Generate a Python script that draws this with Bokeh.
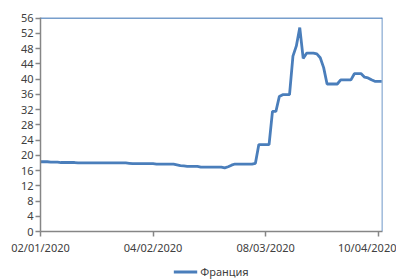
import pandas as pd
from bokeh.plotting import figure
from bokeh.layouts import column
from bokeh.models import (ColumnDataSource, FixedTicker, DatetimeTickFormatter,
                          Span, Legend, LegendItem, Range1d)
from bokeh.embed import file_html
from bokeh.resources import INLINE

# ---- data ----
start_date = "2020-01-02"
end_date = "2020-04-11"
series_name = "Франция"
values = [
    # Jan 2 - Jan 9
    18.3, 18.3, 18.3, 18.2, 18.2, 18.2, 18.1, 18.1,
    # Jan 10 - Jan 27
    18.1, 18.1, 18.1, 18.0, 18.0, 18.0, 18.0, 18.0, 18.0,
    18.0, 18.0, 18.0, 18.0, 18.0, 18.0, 18.0, 18.0, 18.0,
    # Jan 28 - Feb 4
    17.9, 17.8, 17.8, 17.8, 17.8, 17.8, 17.8, 17.8,
    # Feb 5 - Feb 10
    17.7, 17.7, 17.7, 17.7, 17.7, 17.7,
    # Feb 11 - Feb 17
    17.5, 17.3, 17.2, 17.1, 17.1, 17.1, 17.1,
    # Feb 18 - Feb 24
    16.9, 16.9, 16.9, 16.9, 16.9, 16.9, 16.9,
    # Feb 25 - Feb 27
    16.7, 17.0, 17.4,
    # Feb 28 - Mar 4
    17.7, 17.7, 17.7, 17.7, 17.7, 17.7,
    # Mar 5 - Mar 9
    17.9, 22.8, 22.8, 22.8, 22.8,
    # Mar 10 - Mar 19
    31.5, 31.5, 35.4, 35.9, 35.9, 35.9, 46.0, 48.7, 53.5, 45.4,
    # Mar 20 - Mar 31
    46.8, 46.8, 46.8, 46.6, 45.6, 43.0, 38.7, 38.7, 38.7, 38.7, 39.8, 39.8,
    # Apr 1 - Apr 11
    39.8, 39.8, 41.4, 41.4, 41.4, 40.5, 40.3, 39.8, 39.4, 39.4, 39.4,
]
x_tick_dates = ["2020-01-02", "2020-02-04", "2020-03-08", "2020-04-10"]
y_ticks = list(range(0, 57, 4))
y_max = 56

dates = pd.date_range(start_date, end_date, freq="D")
assert len(dates) == len(values)
src = ColumnDataSource(dict(date=dates, value=values))

def ms(d):
    return pd.Timestamp(d).timestamp() * 1000.0

blue = "#4a7ebb"
gray = "#868686"
txt = "#404040"
font = "Noto Sans"

x_end = ms(end_date) + 6 * 3600 * 1000
p = figure(width=396, height=262, x_axis_type="datetime",
           x_range=Range1d(ms(start_date), x_end),
           y_range=Range1d(0, y_max + 0.15),
           output_backend="svg", toolbar_location=None,
           min_border_left=40, min_border_top=17, min_border_right=14,
           min_border_bottom=31)
p.outline_line_color = None
p.xgrid.visible = False
p.ygrid.visible = False
p.background_fill_color = "white"

r = p.line("date", "value", source=src, line_color=blue, line_width=2.8)

# top and right borders of the frame in series colour
p.add_layout(Span(location=y_max, dimension="width", line_color=blue, line_width=1.6))
p.add_layout(Span(location=x_end, dimension="height", line_color=blue, line_width=1.6))

for ax in (p.xaxis[0], p.yaxis[0]):
    ax.axis_line_color = gray
    ax.axis_line_width = 1.5
    ax.major_tick_line_color = gray
    ax.major_tick_line_width = 1.5
    ax.major_tick_out = 5
    ax.major_tick_in = 0
    ax.minor_tick_line_color = None
    ax.major_label_text_font = font
    ax.major_label_text_font_size = "11px"
    ax.major_label_text_color = txt

p.yaxis[0].ticker = FixedTicker(ticks=y_ticks)
p.yaxis[0].major_label_standoff = 2
p.xaxis[0].ticker = FixedTicker(ticks=[ms(d) for d in x_tick_dates])
p.xaxis[0].formatter = DatetimeTickFormatter(days="%d/%m/%Y", months="%d/%m/%Y",
                                             years="%d/%m/%Y")
p.xaxis[0].major_label_standoff = 3

# legend strip below the chart (same series, kept out of view; only its legend shows)
lg = figure(width=396, height=18, output_backend="svg", toolbar_location=None,
            x_axis_type="datetime",
            x_range=Range1d(ms(start_date), x_end), y_range=Range1d(-20, -10),
            x_axis_location=None, y_axis_location=None,
            min_border_left=0, min_border_right=0, min_border_top=0,
            min_border_bottom=0)
lg.outline_line_color = None
lg.xgrid.visible = False
lg.ygrid.visible = False
lr = lg.line("date", "value", source=src, line_color=blue, line_width=2.8)
legend = Legend(items=[LegendItem(label=series_name, renderers=[lr])],
                orientation="horizontal", location="center",
                border_line_color=None, background_fill_alpha=0,
                label_text_font=font, label_text_font_size="11px",
                label_text_color=txt, glyph_width=24, glyph_height=12,
                label_height=12, padding=0, margin=0, spacing=0,
                label_standoff=3)
lg.add_layout(legend, "center")

layout = column(p, lg, spacing=0)
open("out.html", "w").write(file_html(layout, INLINE))
